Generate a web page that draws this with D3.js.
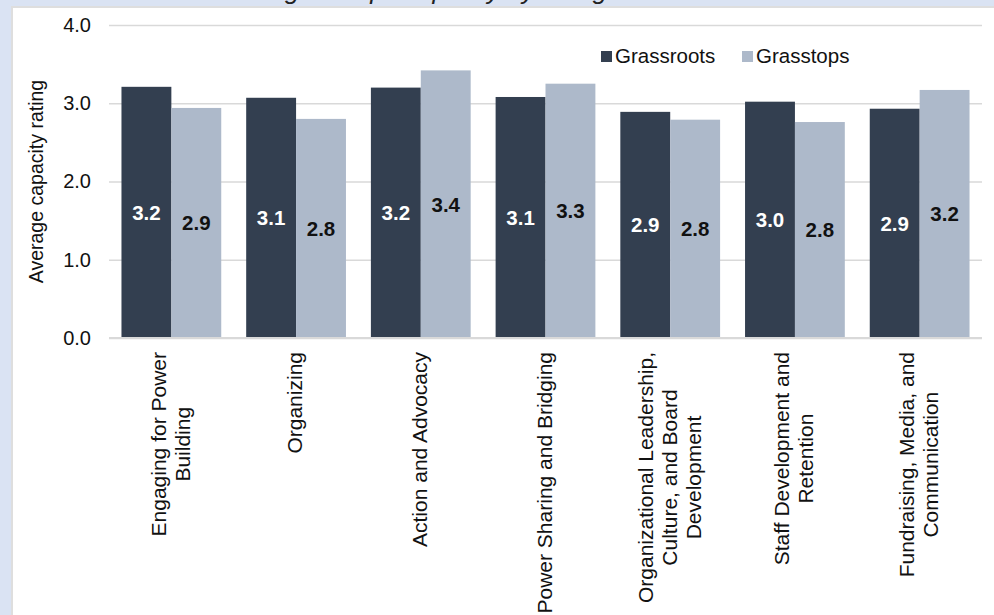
<!DOCTYPE html>
<html>
<head>
<meta charset="utf-8">
<script src="https://cdn.jsdelivr.net/npm/d3@7"></script>
<style>
  body { margin: 0; background: #dae3f3; }
  svg { display: block; font-family: "Liberation Sans", Arial, sans-serif; }
</style>
</head>
<body>
<div id="chart-div"></div>
<script>
// data
var categories = [
  "Engaging for Power\nBuilding",
  "Organizing",
  "Action and Advocacy",
  "Power Sharing and Bridging",
  "Organizational Leadership,\nCulture, and Board\nDevelopment",
  "Staff Development and\nRetention",
  "Fundraising, Media, and\nCommunication"
];
var seriesNames = ["Grassroots", "Grasstops"];
var grassroots = [3.21, 3.07, 3.20, 3.08, 2.89, 3.02, 2.93];
var grasstops  = [2.94, 2.80, 3.42, 3.25, 2.79, 2.76, 3.17];
var yTicks = [0, 1, 2, 3, 4];

var width = 994, height = 615;
var margin = {top: 25, right: 12, bottom: 277, left: 109};

var svg = d3.select('#chart-div')
            .append('svg')
            .attr('width', width)
            .attr('height', height);

// background
svg.append('rect').attr('width', width).attr('height', height).attr('fill', '#dae3f3');

// title, only its descenders show above the white panel
svg.append('text')
    .attr('x', 100)
    .attr('y', -1)
    .style('font-style', 'italic')
    .style('font-size', '26px')
    .attr('fill', '#222')
    .text('Grassroots and grasstops capacity by rating area');

// white panel
svg.append('rect')
    .attr('x', 12).attr('y', 7)
    .attr('width', width).attr('height', height)
    .attr('fill', '#fff')
    .attr('stroke', '#dedede')
    .attr('stroke-width', 2);

var x0 = d3.scaleBand()
    .domain(categories)
    .range([margin.left, width - margin.right])
    .paddingInner(0.2)
    .paddingOuter(0.1);

var x1 = d3.scaleBand()
    .domain(seriesNames)
    .range([0, x0.bandwidth()]);

var y = d3.scaleLinear()
    .domain([0, 4])
    .range([height - margin.bottom, margin.top]);

var color = d3.scaleOrdinal()
    .domain(seriesNames)
    .range(["#333f50", "#adb9ca"]);

// gridlines + tick labels
var yAxis = d3.axisLeft(y)
    .tickValues(yTicks)
    .tickFormat(d3.format('.1f'))
    .tickSize(-(width - margin.right - margin.left))
    .tickPadding(18);

var gy = svg.append('g')
    .attr('class', 'y axis')
    .attr('transform', 'translate(' + margin.left + ',0)')
    .call(yAxis);
gy.select('.domain').remove();
gy.selectAll('.tick line').attr('stroke', '#d9d9d9').attr('stroke-width', 1.5);
gy.selectAll('.tick text')
    .attr('fill', '#111')
    .style('font-size', '20px');

svg.append('text')
    .attr('transform', 'translate(43,' + (y(2)) + ') rotate(-90)')
    .style('text-anchor', 'middle')
    .style('font-size', '19.5px')
    .attr('fill', '#111')
    .text('Average capacity rating');

// bars
var data = categories.map(function(c, i) {
    return {cat: c, values: [
        {series: seriesNames[0], value: grassroots[i]},
        {series: seriesNames[1], value: grasstops[i]}
    ]};
});

var slice = svg.selectAll('.slice')
    .data(data)
    .enter().append('g')
    .attr('class', 'slice')
    .attr('transform', function(d) { return 'translate(' + x0(d.cat) + ',0)'; });

slice.selectAll('rect')
    .data(function(d) { return d.values; })
  .enter().append('rect')
    .attr('x', function(d) { return x1(d.series); })
    .attr('width', x1.bandwidth())
    .attr('y', function(d) { return y(d.value); })
    .attr('height', function(d) { return y(0) - y(d.value); })
    .attr('fill', function(d) { return color(d.series); });

slice.selectAll('.val')
    .data(function(d) { return d.values; })
  .enter().append('text')
    .attr('class', 'val')
    .attr('x', function(d) { return x1(d.series) + x1.bandwidth() / 2; })
    .attr('y', function(d) { return (y(d.value) + y(0)) / 2; })
    .attr('dy', '0.36em')
    .style('text-anchor', 'middle')
    .style('font-weight', 'bold')
    .style('font-size', '20.5px')
    .attr('fill', function(d) { return d.series == seriesNames[0] ? '#fff' : '#111'; })
    .text(function(d) { return d3.format('.1f')(d.value); });

// x axis line
svg.append('line')
    .attr('x1', margin.left).attr('x2', width - margin.right)
    .attr('y1', y(0)).attr('y2', y(0))
    .attr('stroke', '#d9d9d9').attr('stroke-width', 2);

// category labels, rotated, lines centred
var lineH = 24;
categories.forEach(function(c) {
    var lines = c.split('\n');
    var cx = x0(c) + x0.bandwidth() / 2;
    var g = svg.append('g')
        .attr('transform', 'translate(' + cx + ',352) rotate(-90)');
    var texts = lines.map(function(l, i) {
        return g.append('text')
            .attr('y', (i - (lines.length - 1) / 2) * lineH)
            .attr('dy', '0.3em')
            .style('font-size', '21px')
            .attr('fill', '#111')
            .text(l);
    });
    var w = d3.max(texts, function(t) { return t.node().getComputedTextLength(); });
    texts.forEach(function(t) {
        t.attr('x', -w / 2).style('text-anchor', 'middle');
    });
});

// legend
var legX = [601, 742];
var legend = svg.append('g').attr('class', 'legend');
legend.selectAll('rect')
    .data(seriesNames)
    .enter().append('rect')
    .attr('x', function(d, i) { return legX[i]; })
    .attr('y', 51)
    .attr('width', 11)
    .attr('height', 11)
    .attr('fill', function(d) { return color(d); });
legend.selectAll('text')
    .data(seriesNames)
    .enter().append('text')
    .attr('x', function(d, i) { return legX[i] + 14; })
    .attr('y', 63)
    .style('font-size', '20.5px')
    .attr('fill', '#111')
    .text(function(d) { return d; });
</script>
</body>
</html>
